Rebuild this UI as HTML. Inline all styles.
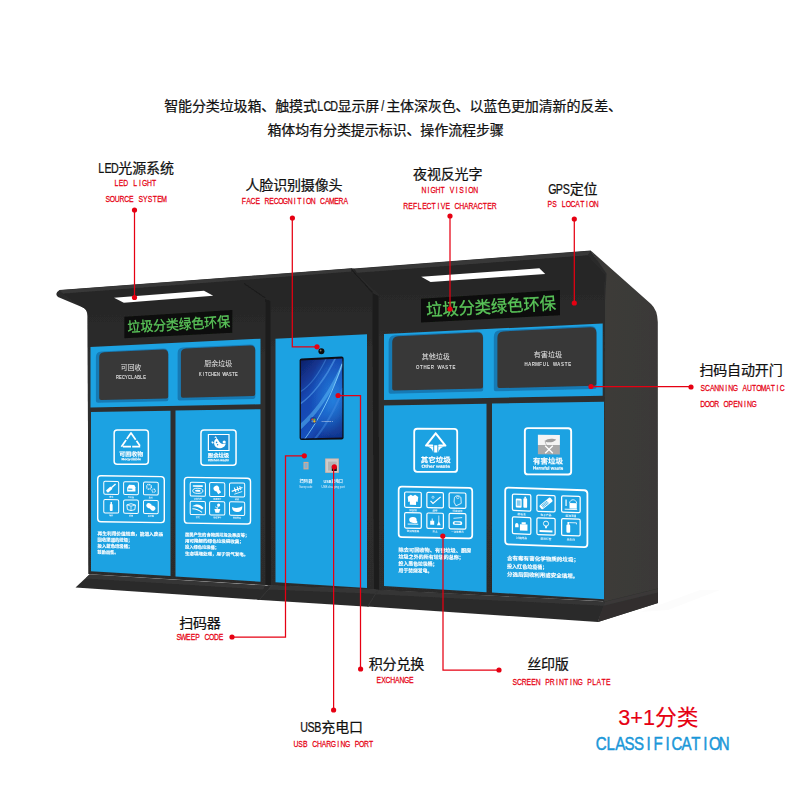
<!DOCTYPE html>
<html lang="zh"><head><meta charset="utf-8"><title>智能分类垃圾箱</title>
<style>
html,body{margin:0;padding:0;background:#fff;}
body{width:800px;height:800px;overflow:hidden;font-family:"Liberation Sans","Noto Sans CJK SC",sans-serif;}
svg{display:block;}
text{white-space:pre;}
</style></head><body>
<svg width="800" height="800" viewBox="0 0 800 800">
<rect width="800" height="800" fill="#fff"/>
<filter id="fSoft" x="0" y="0" width="800" height="800" filterUnits="userSpaceOnUse"><feGaussianBlur stdDeviation="0.38"/></filter>
<g filter="url(#fSoft)">
<defs>
<linearGradient id="gSide" x1="0" y1="0" x2="1" y2="0"><stop offset="0" stop-color="#343332"/><stop offset="0.25" stop-color="#3c3b39"/><stop offset="1" stop-color="#3a3937"/></linearGradient>
<linearGradient id="gScr" x1="0" y1="0" x2="0.6" y2="1"><stop offset="0" stop-color="#0e1c62"/><stop offset="0.4" stop-color="#1646b0"/><stop offset="0.75" stop-color="#1550bc"/><stop offset="1" stop-color="#0d2a86"/></linearGradient>
<radialGradient id="gScrR" cx="0.75" cy="0.5" r="0.55"><stop offset="0" stop-color="#2a8fe8" stop-opacity="0.75"/><stop offset="1" stop-color="#2a8fe8" stop-opacity="0"/></radialGradient>
<linearGradient id="gFront" x1="0" y1="0" x2="0" y2="1"><stop offset="0" stop-color="#262626"/><stop offset="0.25" stop-color="#2f2f2f"/><stop offset="1" stop-color="#2c2c2c"/></linearGradient>
</defs>
<polygon points="640,612 700,590 720,590 668,610" fill="#fcfcfc"/>
<path d="M590.7,250.5 L651,304 Q657.5,310 657.8,322 L658,603 L598,622 L604,598 L604,272 Z" fill="url(#gSide)"/>
<path d="M59.5,290 L351.5,268.2 L354,268.6 L590.7,250.5 L606.5,273.5 L605,300 L604,601 L379,590 L374,589.5 L271,585.5 L265.5,585 L88.5,574 L87.6,316 Q87,309.5 83,307.6 L58,297 Q54,293.5 59.5,290 Z" fill="#2b2b2b"/>
<path d="M59.5,290.3 L351.5,268.5 L351.5,271.6 L63,293.6 Z" fill="#383838"/>
<path d="M354,268.9 L590.5,250.9 L587.6,255.2 L356.5,272.8 Z" fill="#383838"/>
<path d="M63,294 L351.5,272 L372,292.5 L372,296 L271,304 L265.3,300 L88,312 Q85,308 82,307 Z" fill="#272727"/>
<path d="M356.5,273.2 L587.6,255.5 L604.8,274.5 L604.8,282 L380,299 L378.5,294 Z" fill="#262626"/>
<polygon points="87.6,312.0 265.3,299.0 265.3,585.0 88.5,574.0" fill="url(#gFront)" />
<path d="M270.5,303 Q270.5,296.2 277,295.6 L365.5,288.6 Q372.3,288.2 372.3,295 L374,589.5 L271,585.5 Z" fill="url(#gFront)"/>
<path d="M378.6,300 Q378.6,293 385,292.4 L604,274.8 L604,601 L379,590 Z" fill="url(#gFront)"/>
<polygon points="265.3,299.0 270.5,301.0 271.0,585.6 265.5,585.0" fill="#1c1c1c" />
<polygon points="372.3,293.0 378.6,296.0 379.0,590.0 374.0,589.5" fill="#1c1c1c" />
<path d="M244,283.6 L265.5,298" stroke="#1e1e1e" stroke-width="1.2" fill="none"/>
<path d="M351.8,270 L372.5,292.5" stroke="#1e1e1e" stroke-width="1.2" fill="none"/>
<path d="M351.6,268.3 L351.9,272 M354,268.7 L356.5,273" stroke="#222" stroke-width="0.8" fill="none"/>
<polygon points="89.5,574.5 265.5,585.5 272.0,586.0 259.0,599.8 75.5,587.6" fill="#2a2a2a" />
<polygon points="268.0,585.3 380.0,589.5 368.5,606.8 257.0,599.7" fill="#2a2a2a" />
<polygon points="377.5,589.7 605.0,601.5 598.0,622.0 367.5,606.6" fill="#2b2b2b" />
<polygon points="605.0,601.5 658.0,588.5 658.0,603.0 598.0,622.0" fill="#302f2e" />
<polygon points="89.5,574.6 265.5,585.6 263.0,589.6 85.5,578.4" fill="#353535" />
<polygon points="271.0,585.6 377.5,589.8 375.0,593.8 268.0,589.6" fill="#353535" />
<polygon points="378.5,590.0 605.0,601.7 603.6,605.8 376.0,594.2" fill="#353535" />
<polygon points="605.0,601.7 658.0,588.7 658.0,592.4 603.6,605.8" fill="#3a3938" />
<path d="M271.5,586 L259.5,599.5 M377.8,590 L367.8,606.4" stroke="#3a3a3a" stroke-width="0.8" fill="none"/>
<polygon points="114.0,297.7 204.0,290.8 213.2,295.8 123.8,302.8" fill="#ffffff" />
<polygon points="421.2,276.8 539.4,268.3 545.2,274.0 430.6,282.0" fill="#ffffff" />
<polygon points="124.3,316.8 232.3,310.1 232.3,332.7 124.3,338.3" fill="#0c0f0a" />
<text x="127.5" y="329.5" font-size="14" fill="#5ac45a" text-anchor="start" font-weight="normal" font-family='"Liberation Sans","Noto Sans CJK SC",sans-serif' textLength="102.5" lengthAdjust="spacingAndGlyphs" stroke="#5ac45a" stroke-width="0.32" transform="rotate(-3.19 178.3 324.5)">垃圾分类绿色环保</text>
<polygon points="421.0,298.8 560.0,290.1 560.0,315.2 421.0,322.5" fill="#0c0f0a" />
<text x="426.0" y="312.8" font-size="17" fill="#5ac45a" text-anchor="start" font-weight="normal" font-family='"Liberation Sans","Noto Sans CJK SC",sans-serif' textLength="130.0" lengthAdjust="spacingAndGlyphs" stroke="#5ac45a" stroke-width="0.32" transform="rotate(-3.18 490.5 306.6)">垃圾分类绿色环保</text>
<polygon points="90.5,347.0 260.5,338.7 260.5,404.3 90.5,407.5" fill="#1fa2e2" />
<path d="M101.40,351.38 L162.90,348.53 Q168.40,348.28 168.40,353.78 L168.40,399.33 Q168.40,401.33 166.40,401.37 L97.90,402.82 Q95.90,402.86 95.90,400.86 L95.90,357.13 Q95.90,351.63 101.40,351.38 Z" fill="#187ab4" />
<path d="M104.20,352.25 L163.20,349.55 Q168.20,349.32 168.20,354.32 L168.20,396.44 Q168.20,398.44 166.20,398.48 L101.20,399.94 Q99.20,399.99 99.20,397.99 L99.20,357.48 Q99.20,352.48 104.20,352.25 Z" fill="#373737" />
<path d="M183.10,347.60 L249.90,344.51 Q255.40,344.25 255.40,349.75 L255.40,396.84 Q255.40,398.84 253.40,398.88 L179.60,400.47 Q177.60,400.51 177.60,398.51 L177.60,353.35 Q177.60,347.85 183.10,347.60 Z" fill="#187ab4" />
<path d="M185.90,348.51 L250.20,345.57 Q255.20,345.34 255.20,350.34 L255.20,394.05 Q255.20,396.05 253.20,396.09 L182.90,397.69 Q180.90,397.73 180.90,395.73 L180.90,353.74 Q180.90,348.74 185.90,348.51 Z" fill="#373737" />
<polygon points="91.0,412.0 170.5,410.7 170.5,576.1 91.0,571.2" fill="#1fa2e2" />
<polygon points="175.5,410.6 260.5,409.2 260.5,581.7 175.5,576.5" fill="#1fa2e2" />
<polygon points="275.5,338.8 367.0,334.3 367.0,587.9 275.5,582.3" fill="#1fa2e2" />
<polygon points="384.0,334.0 602.7,323.5 602.7,395.7 384.0,400.0" fill="#1fa2e2" />
<path d="M395.10,335.25 L476.70,331.39 Q483.20,331.08 483.20,337.58 L483.20,389.55 Q483.20,391.55 481.20,391.60 L390.60,393.63 Q388.60,393.68 388.60,391.68 L388.60,342.06 Q388.60,335.56 395.10,335.25 Z" fill="#187ab4" />
<path d="M398.20,336.31 L477.00,332.62 Q483.00,332.34 483.00,338.34 L483.00,386.44 Q483.00,388.44 481.00,388.49 L394.20,390.55 Q392.20,390.60 392.20,388.60 L392.20,342.59 Q392.20,336.59 398.20,336.31 Z" fill="#373737" />
<path d="M500.30,330.27 L590.10,326.02 Q596.60,325.71 596.60,332.21 L596.60,387.01 Q596.60,389.01 594.60,389.06 L495.80,391.27 Q493.80,391.32 493.80,389.32 L493.80,337.08 Q493.80,330.58 500.30,330.27 Z" fill="#187ab4" />
<path d="M503.40,331.38 L590.40,327.31 Q596.40,327.03 596.40,333.03 L596.40,383.75 Q596.40,385.75 594.40,385.80 L499.40,388.05 Q497.40,388.10 497.40,386.10 L497.40,337.66 Q497.40,331.66 503.40,331.38 Z" fill="#373737" />
<polygon points="384.0,405.5 486.5,403.7 486.5,592.2 384.0,586.0" fill="#1fa2e2" />
<polygon points="492.0,403.6 604.0,401.7 604.0,599.2 492.0,592.5" fill="#1fa2e2" />
<circle cx="321.4" cy="351.3" r="3.0" fill="#0d0d0d"/><circle cx="320.6" cy="350.5" r="0.9" fill="#8a7a6a"/>
<path d="M299.6,360.6 Q299.6,358.6 301.6,358.5 L341.4,356.6 Q343.6,356.5 343.6,358.6 L343.6,437.6 Q343.6,439.4 341.6,439.5 L301.6,440 Q299.6,440 299.6,438 Z" fill="#0c0d14"/>
<clipPath id="cScr"><path d="M300.9,360.6 L342.3,358.4 L342.3,437.6 L300.9,438.4 Z"/></clipPath>
<g clip-path="url(#cScr)"><rect x="300" y="357" width="44" height="83" fill="url(#gScr)"/><rect x="300" y="357" width="44" height="83" fill="url(#gScrR)"/><path d="M300,424 C312,414 330,392 343,360 L343,366 C331,396 314,418 300,430 Z" fill="#58b4f2" opacity="0.55"/><path d="M304,440 C316,424 332,396 342,364" stroke="#8fdcff" stroke-width="0.9" fill="none" opacity="0.85"/><path d="M300,404 C312,396 326,378 336,357" stroke="#5aa6ee" stroke-width="1.6" fill="none" opacity="0.55"/><path d="M300,392 C310,386 320,372 327,357" stroke="#4a8fe0" stroke-width="1.2" fill="none" opacity="0.5"/><path d="M314,440 C326,426 338,404 343,388" stroke="#3f8ae2" stroke-width="2" fill="none" opacity="0.5"/></g>
<circle cx="313.3" cy="420.4" r="3.3" fill="#1b3f9a"/><circle cx="312.5" cy="419.6" r="1.15" fill="#e0472b"/><circle cx="314.4" cy="419.6" r="1.15" fill="#5db341"/><circle cx="312.5" cy="421.4" r="1.15" fill="#3a8be0"/><circle cx="314.4" cy="421.4" r="1.15" fill="#f2b720"/>
<text x="321.5" y="421.8" font-size="2.4" fill="#dfe8f5" text-anchor="start" font-weight="normal" font-family='"Liberation Sans","Noto Sans CJK SC",sans-serif' >Windows 7</text>
<rect x="303.5" y="461.9" width="5" height="7.5" fill="#dba98c"/><rect x="304.5" y="463" width="3" height="5.3" fill="#7fb2d6"/>
<rect x="325.2" y="458.5" width="13.6" height="14.3" fill="#e3b7a2"/><rect x="326.2" y="459.5" width="11.6" height="12.3" fill="#cdcdcd"/><rect x="328" y="461.6" width="8.6" height="9" fill="#b4b4b4"/><rect x="331.8" y="466.6" width="5" height="4.4" fill="#161616"/>
<text x="299.6" y="482.6" font-size="4.0" fill="#f2f9fe" text-anchor="start" font-weight="bold" font-family='"Liberation Sans","Noto Sans CJK SC",sans-serif' textLength="12.8" lengthAdjust="spacingAndGlyphs" >扫码器</text>
<text x="299.3" y="487.5" font-size="2.7" fill="#e4f2fb" text-anchor="start" font-weight="normal" font-family='"Liberation Sans","Noto Sans CJK SC",sans-serif' textLength="13.0" lengthAdjust="spacingAndGlyphs" >Sweep code</text>
<text x="323.4" y="482.6" font-size="4.0" fill="#f2f9fe" text-anchor="start" font-weight="bold" font-family='"Liberation Sans","Noto Sans CJK SC",sans-serif' textLength="19.5" lengthAdjust="spacingAndGlyphs" >USB充电口</text>
<text x="321.5" y="487.5" font-size="2.7" fill="#e4f2fb" text-anchor="start" font-weight="normal" font-family='"Liberation Sans","Noto Sans CJK SC",sans-serif' textLength="23.2" lengthAdjust="spacingAndGlyphs" >USB charging port</text>
<text x="120.8" y="370.4" font-size="6.4" fill="#e9e9e9" text-anchor="start" font-weight="normal" font-family='"Liberation Sans","Noto Sans CJK SC",sans-serif' textLength="20.5" lengthAdjust="spacingAndGlyphs" >可回收</text>
<text x="1.59 5.55 9.51 13.47 17.43 21.39 25.35 29.31 33.27 37.23" y="0" font-size="5.2" fill="#ececec" stroke="#ececec" stroke-width="0.12" text-anchor="middle" font-family='"Liberation Sans","Noto Sans CJK SC",sans-serif' transform="translate(116.2 378.8) scale(0.76 1)">RECYCLABLE</text>
<text x="204.3" y="366.4" font-size="6.6" fill="#e9e9e9" text-anchor="start" font-weight="normal" font-family='"Liberation Sans","Noto Sans CJK SC",sans-serif' textLength="28.0" lengthAdjust="spacingAndGlyphs" >厨余垃圾</text>
<text x="1.58 5.54 9.50 13.46 17.41 21.37 25.33 29.29 33.24 37.20 41.16 45.12 49.07" y="0" font-size="5.2" fill="#ececec" stroke="#ececec" stroke-width="0.12" text-anchor="middle" font-family='"Liberation Sans","Noto Sans CJK SC",sans-serif' transform="translate(199.1 375.8) scale(0.76 1)">KITCHEN WASTE</text>
<g transform="matrix(1 0.0006 0 1 0 -0.073)"><rect x="114.15" y="429.95" width="34.20" height="34.40" rx="3" fill="none" stroke="#ffffff" stroke-width="1.5"/><path d="M131.0,432.9 L121.4,446.7 L140.6,446.7 Z" fill="none" stroke="#ffffff" stroke-width="1.7" stroke-linejoin="round" stroke-dasharray="7.4 1.2 8.2 1.6 8 1.2 8 1.6 6 1.4 20"/><text x="119.35" y="456.22" font-size="5.9" fill="#ffffff" stroke="#ffffff" stroke-width="0.12" font-weight="bold" font-family='"Liberation Sans","Noto Sans CJK SC",sans-serif' textLength="23.80" lengthAdjust="spacingAndGlyphs">可回收物</text><text x="121.55" y="460.19" font-size="3.3" fill="#ffffff" stroke="#ffffff" stroke-width="0.12" font-weight="bold" font-family='"Liberation Sans","Noto Sans CJK SC",sans-serif' textLength="19.40" lengthAdjust="spacingAndGlyphs">Recyclable</text></g>
<g transform="matrix(1 0.0154 0 1 0 -2.015)"><rect x="97.70" y="476.20" width="66.60" height="46.00" rx="3.2" fill="none" stroke="#ffffff" stroke-width="1.4"/><rect x="103.75" y="481.75" width="14.95" height="12.85" rx="1.4" fill="none" stroke="#ffffff" stroke-width="1.0"/><g transform="translate(111.22 488.18) rotate(-42)"><rect x="-5.86" y="-1.54" width="6.42" height="3.08" rx="0.9" fill="#ffffff"/><rect x="0.28" y="-0.71" width="5.58" height="1.42" fill="#ffffff"/></g><text x="111.22" y="497.92" font-size="2.0" fill="#e4f3fc" font-weight="bold" text-anchor="middle" font-family='"Liberation Sans","Noto Sans CJK SC",sans-serif'>玻璃</text><rect x="123.60" y="481.75" width="14.80" height="12.85" rx="1.4" fill="none" stroke="#ffffff" stroke-width="1.0"/><path d="M127.14,487.58 L129.07,484.86 L134.31,484.86 L135.42,487.23 L135.42,491.49 L127.14,491.49 Z" fill="#ffffff"/><rect x="128.24" y="488.65" width="4.14" height="1.19" fill="#1fa2e2"/><text x="131.00" y="497.92" font-size="2.0" fill="#e4f3fc" font-weight="bold" text-anchor="middle" font-family='"Liberation Sans","Noto Sans CJK SC",sans-serif'>牛奶盒</text><rect x="143.50" y="481.75" width="14.75" height="12.85" rx="1.4" fill="none" stroke="#ffffff" stroke-width="1.0"/><circle cx="148.95" cy="486.52" r="2.34" fill="none" stroke="#ffffff" stroke-width="1.3" stroke-dasharray="1 0.7"/><circle cx="153.62" cy="490.31" r="1.65" fill="none" stroke="#ffffff" stroke-width="1.1" stroke-dasharray="0.9 0.6"/><text x="150.88" y="497.92" font-size="2.0" fill="#e4f3fc" font-weight="bold" text-anchor="middle" font-family='"Liberation Sans","Noto Sans CJK SC",sans-serif'>金属</text><rect x="103.75" y="500.00" width="14.95" height="13.30" rx="1.4" fill="none" stroke="#ffffff" stroke-width="1.0"/><rect x="109.83" y="504.19" width="2.79" height="7.13" rx="0.8" fill="#ffffff"/><rect x="110.53" y="502.22" width="1.40" height="2.46" fill="#ffffff"/><text x="111.22" y="516.52" font-size="2.0" fill="#e4f3fc" font-weight="bold" text-anchor="middle" font-family='"Liberation Sans","Noto Sans CJK SC",sans-serif'>塑料</text><rect x="123.60" y="500.00" width="14.80" height="13.30" rx="1.4" fill="none" stroke="#ffffff" stroke-width="1.0"/><path d="M126.86,504.93 L131.00,503.70 L135.42,504.93 L134.86,509.60 L131.00,510.59 L127.41,509.60 Z" fill="none" stroke="#ffffff" stroke-width="0.9"/><path d="M126.86,504.93 L131.00,506.16 L135.42,504.93 M131.00,506.16 L131.00,510.59" fill="none" stroke="#ffffff" stroke-width="0.7"/><text x="131.00" y="516.52" font-size="2.0" fill="#e4f3fc" font-weight="bold" text-anchor="middle" font-family='"Liberation Sans","Noto Sans CJK SC",sans-serif'>纸箱</text><rect x="143.50" y="500.00" width="14.75" height="13.30" rx="1.4" fill="none" stroke="#ffffff" stroke-width="1.0"/><g transform="translate(150.88 506.65) rotate(35)"><ellipse cx="-2.20" cy="0" rx="2.75" ry="2.46" fill="#ffffff"/><ellipse cx="2.20" cy="0" rx="2.75" ry="2.46" fill="#ffffff"/></g><text x="150.88" y="516.52" font-size="2.0" fill="#e4f3fc" font-weight="bold" text-anchor="middle" font-family='"Liberation Sans","Noto Sans CJK SC",sans-serif'>易拉罐</text></g>
<g transform="matrix(1 0.0107 0 1 0 -1.046)"><text x="97.60" y="535.19" font-size="4.7" fill="#ffffff" stroke="#ffffff" stroke-width="0.12" font-weight="bold" font-family='"Liberation Sans","Noto Sans CJK SC",sans-serif' textLength="65.60" lengthAdjust="spacingAndGlyphs">再生利用价值较高，能进入废品</text></g>
<g transform="matrix(1 0.0115 0 1 0 -1.121)"><text x="97.60" y="541.49" font-size="4.7" fill="#ffffff" stroke="#ffffff" stroke-width="0.12" font-weight="bold" font-family='"Liberation Sans","Noto Sans CJK SC",sans-serif' textLength="34.80" lengthAdjust="spacingAndGlyphs">回收渠道的垃圾；</text></g>
<g transform="matrix(1 0.0122 0 1 0 -1.195)"><text x="97.60" y="547.69" font-size="4.7" fill="#ffffff" stroke="#ffffff" stroke-width="0.12" font-weight="bold" font-family='"Liberation Sans","Noto Sans CJK SC",sans-serif' textLength="34.80" lengthAdjust="spacingAndGlyphs">投入蓝色垃圾桶；</text></g>
<g transform="matrix(1 0.0130 0 1 0 -1.268)"><text x="97.60" y="553.79" font-size="4.7" fill="#ffffff" stroke="#ffffff" stroke-width="0.12" font-weight="bold" font-family='"Liberation Sans","Noto Sans CJK SC",sans-serif' textLength="20.80" lengthAdjust="spacingAndGlyphs">鼓励出售。</text></g>
<g transform="matrix(1 0.0007 0 1 0 -0.162)"><rect x="200.95" y="429.95" width="35.10" height="35.30" rx="3" fill="none" stroke="#ffffff" stroke-width="1.5"/><rect x="208.4" y="434.5" width="20.6" height="16" fill="#1a8fd4" stroke="#ffffff" stroke-width="1.2"/><path d="M214.2,441.4 C215,438.6 217.2,438 218.4,440.2 C219.8,443 222.4,445 225.8,443.4 C225.2,447.2 221.2,448.8 218,448 C215,447.2 213.6,444.6 214.2,441.4 Z" fill="#ffffff"/><circle cx="224.2" cy="442" r="1.6" fill="#ffffff"/><circle cx="216.6" cy="442.4" r="0.8" fill="#1a8fd4"/><circle cx="217.6" cy="444.8" r="0.7" fill="#1a8fd4"/><path d="M215.4,436.4 L216.8,439 M214.6,437.6 L216.4,437.2 M211.4,442.4 L213.8,442.6 M212.2,441.2 L212.8,443.8" stroke="#ffffff" stroke-width="0.8"/><text x="207.80" y="457.42" font-size="5.6" fill="#ffffff" stroke="#ffffff" stroke-width="0.12" font-weight="bold" font-family='"Liberation Sans","Noto Sans CJK SC",sans-serif' textLength="21.40" lengthAdjust="spacingAndGlyphs">厨余垃圾</text><text x="207.90" y="461.32" font-size="3.1" fill="#ffffff" stroke="#ffffff" stroke-width="0.12" font-weight="bold" font-family='"Liberation Sans","Noto Sans CJK SC",sans-serif' textLength="21.20" lengthAdjust="spacingAndGlyphs">Kitchen waste</text></g>
<g transform="matrix(1 0.0152 0 1 0 -3.302)"><rect x="184.40" y="477.80" width="66.10" height="45.80" rx="3.2" fill="none" stroke="#ffffff" stroke-width="1.4"/><rect x="190.20" y="482.70" width="15.20" height="13.80" rx="1.4" fill="none" stroke="#ffffff" stroke-width="1.0"/><rect x="192.69" y="485.50" width="10.22" height="1.66" rx="0.8" fill="#ffffff"/><ellipse cx="197.80" cy="491.14" rx="5.11" ry="2.56" fill="none" stroke="#ffffff" stroke-width="0.9"/><ellipse cx="197.80" cy="491.14" rx="2.84" ry="1.02" fill="#ffffff"/><text x="197.80" y="499.82" font-size="2.0" fill="#e4f3fc" font-weight="bold" text-anchor="middle" font-family='"Liberation Sans","Noto Sans CJK SC",sans-serif'>骨骼内脏</text><rect x="209.60" y="482.70" width="15.20" height="13.80" rx="1.4" fill="none" stroke="#ffffff" stroke-width="1.0"/><g transform="translate(217.20 489.60) rotate(-35)"><ellipse cx="0" cy="-1.54" rx="2.84" ry="2.56" fill="#ffffff"/><rect x="-1.70" y="-0.26" width="3.41" height="4.61" fill="#ffffff"/></g><text x="217.20" y="499.82" font-size="2.0" fill="#e4f3fc" font-weight="bold" text-anchor="middle" font-family='"Liberation Sans","Noto Sans CJK SC",sans-serif'>菜梗菜叶</text><rect x="229.50" y="482.70" width="15.20" height="13.80" rx="1.4" fill="none" stroke="#ffffff" stroke-width="1.0"/><path d="M231.70,491.14 L242.50,487.04 M234.26,487.30 L235.96,491.90 M237.10,486.27 L238.52,490.88 M239.66,485.76 L240.79,489.60" stroke="#ffffff" stroke-width="1.1" fill="none"/><path d="M234.26,493.95 L242.21,491.14" stroke="#ffffff" stroke-width="0.8"/><text x="237.10" y="499.82" font-size="2.0" fill="#e4f3fc" font-weight="bold" text-anchor="middle" font-family='"Liberation Sans","Noto Sans CJK SC",sans-serif'>果皮</text><rect x="190.20" y="501.60" width="15.20" height="13.40" rx="1.4" fill="none" stroke="#ffffff" stroke-width="1.0"/><path d="M192.40,506.56 C196.38,503.34 201.35,504.58 203.48,508.30 L202.06,509.79 C199.22,507.06 196.38,506.56 192.40,506.56 Z" fill="#ffffff"/><path d="M192.40,509.04 C196.38,509.04 199.22,510.28 202.06,512.52" stroke="#ffffff" stroke-width="1" fill="none"/><text x="197.80" y="518.32" font-size="2.0" fill="#e4f3fc" font-weight="bold" text-anchor="middle" font-family='"Liberation Sans","Noto Sans CJK SC",sans-serif'>茶渣</text><rect x="209.60" y="501.60" width="15.20" height="13.40" rx="1.4" fill="none" stroke="#ffffff" stroke-width="1.0"/><path d="M214.36,508.92 L220.32,508.92 L219.19,512.76 L215.50,512.76 Z" fill="#ffffff"/><circle cx="218.62" cy="505.08" r="1.56" fill="#ffffff"/><path d="M217.20,508.92 L218.34,505.82 M217.20,508.30 L215.21,506.81" stroke="#ffffff" stroke-width="0.8"/><text x="217.20" y="518.32" font-size="2.0" fill="#e4f3fc" font-weight="bold" text-anchor="middle" font-family='"Liberation Sans","Noto Sans CJK SC",sans-serif'>残枝落叶</text><rect x="229.50" y="501.60" width="15.20" height="13.40" rx="1.4" fill="none" stroke="#ffffff" stroke-width="1.0"/><path d="M231.99,506.81 C235.68,508.30 239.09,507.56 242.21,505.82 C242.78,509.79 239.94,512.02 236.53,511.77 C233.69,511.52 231.99,509.54 231.99,506.81 Z" fill="#ffffff"/><text x="237.10" y="518.32" font-size="2.0" fill="#e4f3fc" font-weight="bold" text-anchor="middle" font-family='"Liberation Sans","Noto Sans CJK SC",sans-serif'>剩菜剩饭</text></g>
<g transform="matrix(1 0.0104 0 1 0 -1.925)"><text x="185.00" y="536.22" font-size="4.5" fill="#ffffff" stroke="#ffffff" stroke-width="0.12" font-weight="bold" font-family='"Liberation Sans","Noto Sans CJK SC",sans-serif' textLength="64.20" lengthAdjust="spacingAndGlyphs">居民产生的食物类垃圾及果皮等；</text></g>
<g transform="matrix(1 0.0111 0 1 0 -2.059)"><text x="185.00" y="542.42" font-size="4.5" fill="#ffffff" stroke="#ffffff" stroke-width="0.12" font-weight="bold" font-family='"Liberation Sans","Noto Sans CJK SC",sans-serif' textLength="58.80" lengthAdjust="spacingAndGlyphs">用可降解的绿色垃圾袋收集；</text></g>
<g transform="matrix(1 0.0119 0 1 0 -2.194)"><text x="185.00" y="548.62" font-size="4.5" fill="#ffffff" stroke="#ffffff" stroke-width="0.12" font-weight="bold" font-family='"Liberation Sans","Noto Sans CJK SC",sans-serif' textLength="34.00" lengthAdjust="spacingAndGlyphs">投入绿色垃圾桶；</text></g>
<g transform="matrix(1 0.0126 0 1 0 -2.337)"><text x="185.00" y="555.22" font-size="4.5" fill="#ffffff" stroke="#ffffff" stroke-width="0.12" font-weight="bold" font-family='"Liberation Sans","Noto Sans CJK SC",sans-serif' textLength="63.20" lengthAdjust="spacingAndGlyphs">生态填埋处理，用于沼气发电。</text></g>
<g transform="matrix(1 0.0018 0 1 0 -0.796)"><rect x="414.20" y="428.80" width="43.00" height="43.10" rx="3" fill="none" stroke="#ffffff" stroke-width="1.8"/><path d="M435.7,433.3 L426,445.6 L432.3,445.6 M435.7,433.3 L445.4,445.6 L439.2,445.6" fill="none" stroke="#ffffff" stroke-width="2" stroke-linejoin="round" stroke-linecap="round"/><path d="M434.2,445.2 L437.3,445.2 L437.3,452.6 L434.2,452.6 Z" fill="#ffffff"/><path d="M427.5,446.6 L433.2,446.6 L433.2,452.6 C432.6,449.6 430.6,447.6 427.5,446.6 Z M444,446.6 L438.3,446.6 L438.3,452.6 C438.9,449.6 440.9,447.6 444,446.6 Z" fill="#ffffff"/><text x="420.70" y="462.49" font-size="7.2" fill="#ffffff" stroke="#ffffff" stroke-width="0.12" font-weight="bold" font-family='"Liberation Sans","Noto Sans CJK SC",sans-serif' textLength="30.00" lengthAdjust="spacingAndGlyphs">其它垃圾</text><text x="421.40" y="467.68" font-size="4.4" fill="#ffffff" stroke="#ffffff" stroke-width="0.12" font-weight="bold" font-family='"Liberation Sans","Noto Sans CJK SC",sans-serif' textLength="28.60" lengthAdjust="spacingAndGlyphs">Other waste</text></g>
<g transform="matrix(1 0.0169 0 1 0 -6.717)"><rect x="398.65" y="486.65" width="73.60" height="50.50" rx="3.2" fill="none" stroke="#ffffff" stroke-width="1.7"/><rect x="404.60" y="491.85" width="16.70" height="15.30" rx="1.4" fill="none" stroke="#ffffff" stroke-width="1.2"/><path d="M410.78,494.42 L412.95,495.83 L415.12,494.42 L418.22,496.68 L417.60,501.76 L416.05,501.19 L416.05,504.58 L409.85,504.58 L409.85,501.19 L408.30,501.76 L407.68,496.68 Z" fill="#ffffff"/><text x="412.95" y="510.90" font-size="2.5" fill="#e4f3fc" font-weight="bold" text-anchor="middle" font-family='"Liberation Sans","Noto Sans CJK SC",sans-serif'>旧衣物</text><rect x="426.85" y="491.85" width="16.55" height="15.30" rx="1.4" fill="none" stroke="#ffffff" stroke-width="1.2"/><path d="M430.52,500.35 L432.98,502.88 L440.65,496.12" stroke="#ffffff" stroke-width="1.2" fill="none"/><circle cx="432.98" cy="496.68" r="1.07" fill="none" stroke="#ffffff" stroke-width="0.6"/><text x="435.12" y="510.90" font-size="2.5" fill="#e4f3fc" font-weight="bold" text-anchor="middle" font-family='"Liberation Sans","Noto Sans CJK SC",sans-serif'>烟蒂</text><rect x="449.10" y="491.85" width="16.80" height="15.30" rx="1.4" fill="none" stroke="#ffffff" stroke-width="1.2"/><path d="M454.38,497.24 C454.38,494.14 460.00,493.86 460.93,496.68 L461.24,502.32 L455.94,504.86 L454.07,501.19 Z" fill="none" stroke="#ffffff" stroke-width="0.8"/><circle cx="457.81" cy="496.40" r="1.25" fill="none" stroke="#ffffff" stroke-width="0.6"/><text x="457.50" y="510.90" font-size="2.5" fill="#e4f3fc" font-weight="bold" text-anchor="middle" font-family='"Liberation Sans","Noto Sans CJK SC",sans-serif'>污染纸张</text><rect x="404.60" y="512.50" width="16.70" height="15.40" rx="1.4" fill="none" stroke="#ffffff" stroke-width="1.2"/><ellipse cx="412.95" cy="519.63" rx="3.72" ry="2.84" fill="#ffffff"/><path d="M407.68,523.89 L418.22,523.89" stroke="#ffffff" stroke-width="0.9"/><ellipse cx="414.81" cy="521.62" rx="2.79" ry="1.42" fill="#ffffff"/><text x="412.95" y="531.70" font-size="2.5" fill="#e4f3fc" font-weight="bold" text-anchor="middle" font-family='"Liberation Sans","Noto Sans CJK SC",sans-serif'>破旧陶瓷品</text><rect x="426.85" y="512.50" width="16.55" height="15.40" rx="1.4" fill="none" stroke="#ffffff" stroke-width="1.2"/><rect x="430.21" y="520.20" width="3.99" height="3.98" fill="#ffffff"/><rect x="431.75" y="517.93" width="0.92" height="2.56" fill="#ffffff"/><path d="M438.81,514.80 L438.81,521.05" stroke="#ffffff" stroke-width="0.7"/><path d="M438.81,520.20 L440.65,524.46 L436.97,524.46 Z" fill="#ffffff"/><text x="435.12" y="531.70" font-size="2.5" fill="#e4f3fc" font-weight="bold" text-anchor="middle" font-family='"Liberation Sans","Noto Sans CJK SC",sans-serif'>灰土</text><rect x="449.10" y="512.50" width="16.80" height="15.40" rx="1.4" fill="none" stroke="#ffffff" stroke-width="1.2"/><rect x="452.82" y="520.20" width="9.36" height="3.69" rx="1.6" fill="#ffffff"/><rect x="454.38" y="521.34" width="6.24" height="1.42" rx="0.8" fill="#1fa2e2"/><path d="M453.44,517.36 L462.18,516.51" stroke="#ffffff" stroke-width="0.8"/><text x="457.50" y="531.70" font-size="2.5" fill="#e4f3fc" font-weight="bold" text-anchor="middle" font-family='"Liberation Sans","Noto Sans CJK SC",sans-serif'>一次性餐具</text></g>
<g transform="matrix(1 0.0111 0 1 0 -4.420)"><text x="398.60" y="551.77" font-size="5.2" fill="#ffffff" stroke="#ffffff" stroke-width="0.12" font-weight="bold" font-family='"Liberation Sans","Noto Sans CJK SC",sans-serif' textLength="72.70" lengthAdjust="spacingAndGlyphs">除去可回收物、有害垃圾、厨房</text></g>
<g transform="matrix(1 0.0118 0 1 0 -4.709)"><text x="398.60" y="558.57" font-size="5.2" fill="#ffffff" stroke="#ffffff" stroke-width="0.12" font-weight="bold" font-family='"Liberation Sans","Noto Sans CJK SC",sans-serif' textLength="65.20" lengthAdjust="spacingAndGlyphs">垃圾之外的所有垃圾的总称；</text></g>
<g transform="matrix(1 0.0126 0 1 0 -5.002)"><text x="398.60" y="565.47" font-size="5.2" fill="#ffffff" stroke="#ffffff" stroke-width="0.12" font-weight="bold" font-family='"Liberation Sans","Noto Sans CJK SC",sans-serif' textLength="38.90" lengthAdjust="spacingAndGlyphs">投入黑色垃圾桶；</text></g>
<g transform="matrix(1 0.0133 0 1 0 -5.292)"><text x="398.60" y="572.27" font-size="5.2" fill="#ffffff" stroke="#ffffff" stroke-width="0.12" font-weight="bold" font-family='"Liberation Sans","Noto Sans CJK SC",sans-serif' textLength="33.70" lengthAdjust="spacingAndGlyphs">用于焚烧发电。</text></g>
<g transform="matrix(1 0.0021 0 1 0 -1.165)"><rect x="524.85" y="428.15" width="46.30" height="46.30" rx="3" fill="none" stroke="#ffffff" stroke-width="1.9"/><rect x="537.9" y="434.9" width="22" height="10.2" fill="#f4f4f4"/><rect x="537.9" y="445.1" width="22" height="9.3" fill="#a9a9a9"/><path d="M545,441.2 C547,438.3 553,438.2 556.2,439.8 C553.5,442.6 548,443.2 545,441.2 Z" fill="#9c9c9c"/><path d="M545.2,440.4 C545.2,443 546,444.6 547.2,445.8" stroke="#9c9c9c" stroke-width="0.7" fill="none"/><path d="M545.2,445.8 L552.8,453.2 M552.8,445.8 L545.2,453.2" stroke="#ffffff" stroke-width="1.3"/><text x="533.00" y="463.86" font-size="7.4" fill="#ffffff" stroke="#ffffff" stroke-width="0.12" font-weight="bold" font-family='"Liberation Sans","Noto Sans CJK SC",sans-serif' textLength="30.00" lengthAdjust="spacingAndGlyphs">有害垃圾</text><text x="532.90" y="469.66" font-size="4.6" fill="#ffffff" stroke="#ffffff" stroke-width="0.12" font-weight="bold" font-family='"Liberation Sans","Noto Sans CJK SC",sans-serif' textLength="30.20" lengthAdjust="spacingAndGlyphs">Harmful waste</text></g>
<g transform="matrix(1 0.0343 0 1 0 -17.278)"><rect x="505.20" y="487.50" width="82.20" height="56.80" rx="3.2" fill="none" stroke="#ffffff" stroke-width="1.8"/><rect x="512.42" y="493.82" width="18.40" height="16.30" rx="1.4" fill="none" stroke="#ffffff" stroke-width="1.25"/><rect x="515.79" y="498.06" width="5.83" height="9.03" rx="1" fill="#ffffff"/><rect x="516.82" y="499.87" width="3.77" height="5.42" fill="#1fa2e2" opacity="0.55"/><rect x="523.34" y="497.46" width="3.77" height="9.63" rx="1" fill="#ffffff"/><rect x="524.37" y="495.95" width="1.72" height="1.81" fill="#ffffff"/><text x="521.62" y="514.57" font-size="2.7" fill="#e4f3fc" font-weight="bold" text-anchor="middle" font-family='"Liberation Sans","Noto Sans CJK SC",sans-serif'>废电池</text><rect x="536.88" y="493.82" width="18.25" height="16.30" rx="1.4" fill="none" stroke="#ffffff" stroke-width="1.25"/><g transform="translate(546.00 501.98) rotate(-40)"><rect x="-7.14" y="-2.41" width="14.28" height="4.82" rx="1.2" fill="#ffffff"/><path d="M-5.10,-1.20 L2.38,-1.20 M-5.10,0 L2.38,0 M-5.10,1.20 L2.38,1.20" stroke="#1fa2e2" stroke-width="0.7"/></g><text x="546.00" y="514.57" font-size="2.7" fill="#e4f3fc" font-weight="bold" text-anchor="middle" font-family='"Liberation Sans","Noto Sans CJK SC",sans-serif'>电子产品</text><rect x="561.62" y="493.82" width="18.55" height="16.30" rx="1.4" fill="none" stroke="#ffffff" stroke-width="1.25"/><rect x="569.52" y="500.77" width="7.27" height="5.42" fill="#ffffff"/><path d="M569.52,500.77 C570.21,496.26 576.09,496.26 576.78,500.77" stroke="#ffffff" stroke-width="0.8" fill="none"/><path d="M566.06,497.46 L566.06,503.78" stroke="#ffffff" stroke-width="1.2"/><path d="M564.67,507.09 L577.13,507.09" stroke="#ffffff" stroke-width="0.9"/><text x="570.90" y="514.57" font-size="2.7" fill="#e4f3fc" font-weight="bold" text-anchor="middle" font-family='"Liberation Sans","Noto Sans CJK SC",sans-serif'>废油漆桶</text><rect x="512.42" y="516.62" width="18.40" height="16.75" rx="1.4" fill="none" stroke="#ffffff" stroke-width="1.25"/><rect x="519.91" y="523.76" width="7.55" height="6.20" fill="#ffffff"/><rect x="521.62" y="521.59" width="4.12" height="2.17" fill="#ffffff"/><path d="M515.11,524.38 a1.72,1.86 0 0 1 3.43,0 L518.54,526.86 L515.11,526.86 Z" fill="#ffffff"/><text x="521.62" y="538.37" font-size="2.7" fill="#e4f3fc" font-weight="bold" text-anchor="middle" font-family='"Liberation Sans","Noto Sans CJK SC",sans-serif'>过期药品</text><rect x="536.88" y="516.62" width="18.25" height="16.75" rx="1.4" fill="none" stroke="#ffffff" stroke-width="1.25"/><circle cx="546.00" cy="522.21" r="2.55" fill="none" stroke="#ffffff" stroke-width="0.9"/><rect x="545.15" y="524.38" width="1.70" height="2.48" fill="#ffffff"/><rect x="539.54" y="528.72" width="12.92" height="2.17" fill="#ffffff"/><text x="546.00" y="538.37" font-size="2.7" fill="#e4f3fc" font-weight="bold" text-anchor="middle" font-family='"Liberation Sans","Noto Sans CJK SC",sans-serif'>废旧灯管</text><rect x="561.62" y="516.62" width="18.55" height="16.75" rx="1.4" fill="none" stroke="#ffffff" stroke-width="1.25"/><rect x="566.40" y="522.21" width="3.81" height="8.37" rx="1.2" fill="#ffffff"/><rect x="567.44" y="519.73" width="1.73" height="2.79" fill="#ffffff"/><path d="M569.17,520.35 L576.44,520.35 L576.44,521.90" stroke="#ffffff" stroke-width="0.8" fill="none"/><text x="570.90" y="538.37" font-size="2.7" fill="#e4f3fc" font-weight="bold" text-anchor="middle" font-family='"Liberation Sans","Noto Sans CJK SC",sans-serif'>杀虫剂</text></g>
<g transform="matrix(1 0.0206 0 1 0 -10.444)"><text x="507.00" y="560.14" font-size="5.4" fill="#ffffff" stroke="#ffffff" stroke-width="0.12" font-weight="bold" font-family='"Liberation Sans","Noto Sans CJK SC",sans-serif' textLength="72.00" lengthAdjust="spacingAndGlyphs">含有毒有害化学物质的垃圾；</text></g>
<g transform="matrix(1 0.0221 0 1 0 -11.207)"><text x="507.00" y="568.34" font-size="5.4" fill="#ffffff" stroke="#ffffff" stroke-width="0.12" font-weight="bold" font-family='"Liberation Sans","Noto Sans CJK SC",sans-serif' textLength="40.40" lengthAdjust="spacingAndGlyphs">投入红色垃圾桶；</text></g>
<g transform="matrix(1 0.0236 0 1 0 -11.952)"><text x="507.00" y="576.34" font-size="5.4" fill="#ffffff" stroke="#ffffff" stroke-width="0.12" font-weight="bold" font-family='"Liberation Sans","Noto Sans CJK SC",sans-serif' textLength="71.20" lengthAdjust="spacingAndGlyphs">分选后回收利用或安全填埋。</text></g>
<text x="421.7" y="359.4" font-size="6.9" fill="#e9e9e9" text-anchor="start" font-weight="normal" font-family='"Liberation Sans","Noto Sans CJK SC",sans-serif' textLength="28.2" lengthAdjust="spacingAndGlyphs" >其他垃圾</text>
<text x="1.99 6.76 11.54 16.31 21.08 25.86 30.63 35.40 40.17 44.95 49.72" y="0" font-size="5.7" fill="#ececec" stroke="#ececec" stroke-width="0.12" text-anchor="middle" font-family='"Liberation Sans","Noto Sans CJK SC",sans-serif' transform="translate(416.2 369.4) scale(0.76 1)">OTHER WASTE</text>
<text x="533.8" y="356.6" font-size="6.9" fill="#e9e9e9" text-anchor="start" font-weight="normal" font-family='"Liberation Sans","Noto Sans CJK SC",sans-serif' textLength="28.2" lengthAdjust="spacingAndGlyphs" >有害垃圾</text>
<text x="1.99 6.77 11.55 16.33 21.10 25.88 30.66 35.44 40.21 44.99 49.77 54.54 59.32" y="0" font-size="5.7" fill="#ececec" stroke="#ececec" stroke-width="0.12" text-anchor="middle" font-family='"Liberation Sans","Noto Sans CJK SC",sans-serif' transform="translate(524.6 365.7) scale(0.76 1)">HARMFUL WASTE</text>
</g>
<polyline points="134.5,210 134.5,297.5" fill="none" stroke="#e60012" stroke-width="1.25"/>
<circle cx="134.5" cy="210" r="2.6" fill="#e60012"/>
<circle cx="134.5" cy="297.5" r="2.6" fill="#e60012"/>
<polyline points="292.3,218 292.3,346.8 317,346.8" fill="none" stroke="#e60012" stroke-width="1.25"/>
<circle cx="292.4" cy="218" r="2.6" fill="#e60012"/>
<circle cx="317" cy="346.8" r="2.6" fill="#e60012"/>
<polyline points="450,216 450,309" fill="none" stroke="#e60012" stroke-width="1.25"/>
<circle cx="450" cy="216" r="2.6" fill="#e60012"/>
<circle cx="450" cy="309" r="2.6" fill="#e60012"/>
<polyline points="574.3,219 574.3,303" fill="none" stroke="#e60012" stroke-width="1.25"/>
<circle cx="574.3" cy="219" r="2.6" fill="#e60012"/>
<circle cx="574.3" cy="303" r="2.6" fill="#e60012"/>
<polyline points="591,386.5 691,386.5" fill="none" stroke="#e60012" stroke-width="1.25"/>
<circle cx="591" cy="386.5" r="2.6" fill="#e60012"/>
<circle cx="691" cy="387" r="2.6" fill="#e60012"/>
<polyline points="232,637 285.5,637 285.5,455.8 304.3,455.8" fill="none" stroke="#e60012" stroke-width="1.25"/>
<circle cx="232" cy="637" r="2.6" fill="#e60012"/>
<circle cx="304.3" cy="455.8" r="2.6" fill="#e60012"/>
<polyline points="360.5,669 360.5,395.5 338,395.5" fill="none" stroke="#e60012" stroke-width="1.25"/>
<circle cx="360.6" cy="669" r="2.6" fill="#e60012"/>
<circle cx="338.1" cy="395.5" r="2.6" fill="#e60012"/>
<polyline points="333.6,710 333.6,467" fill="none" stroke="#e60012" stroke-width="1.25"/>
<circle cx="333.6" cy="710" r="2.6" fill="#e60012"/>
<circle cx="334.3" cy="466.8" r="2.6" fill="#e60012"/>
<polyline points="499,670 443,670 443,536" fill="none" stroke="#e60012" stroke-width="1.25"/>
<circle cx="499" cy="670" r="2.6" fill="#e60012"/>
<circle cx="442.8" cy="536" r="2.6" fill="#e60012"/>
<text x="171.23 185.10 198.97 212.84 226.72 240.59 254.46 268.32 282.19 296.06 309.94" y="110.8" font-size="14.0" fill="#111" stroke="#111" stroke-width="0.24" text-anchor="middle" font-family='"Liberation Sans","Noto Sans CJK SC",sans-serif'>智能分类垃圾箱、触摸式</text>
<text x="410.69 419.58 428.47" y="0" font-size="13.72" fill="#111" stroke="#111" stroke-width="0.24" text-anchor="middle" font-family='"Liberation Sans","Noto Sans CJK SC",sans-serif' transform="translate(0 110.8) scale(0.78 1)">LCD</text>
<text x="344.61 358.48 372.35" y="110.8" font-size="14.0" fill="#111" stroke="#111" stroke-width="0.24" text-anchor="middle" font-family='"Liberation Sans","Noto Sans CJK SC",sans-serif'>显示屏</text>
<text x="490.71" y="0" font-size="13.72" fill="#111" stroke="#111" stroke-width="0.24" text-anchor="middle" font-family='"Liberation Sans","Noto Sans CJK SC",sans-serif' transform="translate(0 110.8) scale(0.78 1)">/</text>
<text x="393.16 407.03 420.90 434.77 448.64 462.51 476.38 490.25 504.12 517.99 531.86 545.73 559.60 573.47 587.34 601.21 615.08" y="110.8" font-size="14.0" fill="#111" stroke="#111" stroke-width="0.24" text-anchor="middle" font-family='"Liberation Sans","Noto Sans CJK SC",sans-serif'>主体深灰色、以蓝色更加清新的反差、</text>
<text x="274.45 288.35 302.25 316.15 330.05 343.95 357.85 371.75 385.65 399.55 413.45 427.35 441.25 455.15 469.05 482.95 496.85" y="134.8" font-size="14.0" fill="#111" stroke="#111" stroke-width="0.24" text-anchor="middle" font-family='"Liberation Sans","Noto Sans CJK SC",sans-serif'>箱体均有分类提示标识、操作流程步骤</text>
<text x="129.65 138.53 147.40" y="0" font-size="13.72" fill="#111" stroke="#111" stroke-width="0.24" text-anchor="middle" font-family='"Liberation Sans","Noto Sans CJK SC",sans-serif' transform="translate(0 173.2) scale(0.78 1)">LED</text>
<text x="125.36 139.21 153.06 166.91" y="173.2" font-size="14.0" fill="#111" stroke="#111" stroke-width="0.24" text-anchor="middle" font-family='"Liberation Sans","Noto Sans CJK SC",sans-serif'>光源系统</text>
<text x="2.45 8.66 14.88 21.09 27.30 33.52 39.73 45.94 52.16" y="0" font-size="9.0" fill="#e60012" stroke="#e60012" stroke-width="0.25" text-anchor="middle" font-family='"Liberation Sans","Noto Sans CJK SC",sans-serif' transform="translate(114.5 186.2) scale(0.76 1)">LED LIGHT</text>
<text x="2.43 8.60 14.78 20.95 27.13 33.30 39.47 45.65 51.82 58.00 64.17 70.34 76.52" y="0" font-size="9.0" fill="#e60012" stroke="#e60012" stroke-width="0.25" text-anchor="middle" font-family='"Liberation Sans","Noto Sans CJK SC",sans-serif' transform="translate(106.0 202.2) scale(0.76 1)">SOURCE SYSTEM</text>
<text x="252.45 266.30 280.15 294.00 307.85 321.70 335.55" y="189.8" font-size="14.0" fill="#111" stroke="#111" stroke-width="0.24" text-anchor="middle" font-family='"Liberation Sans","Noto Sans CJK SC",sans-serif'>人脸识别摄像头</text>
<text x="2.39 8.48 14.57 20.67 26.76 32.85 38.94 45.04 51.13 57.22 63.32 69.41 75.50 81.59 87.69 93.78 99.87 105.96 112.06 118.15 124.24 130.33 136.43" y="0" font-size="9.0" fill="#e60012" stroke="#e60012" stroke-width="0.25" text-anchor="middle" font-family='"Liberation Sans","Noto Sans CJK SC",sans-serif' transform="translate(242.0 204.2) scale(0.76 1)">FACE RECOGNITION CAMERA</text>
<text x="420.05 433.90 447.75 461.60 475.45" y="179.2" font-size="14.0" fill="#111" stroke="#111" stroke-width="0.24" text-anchor="middle" font-family='"Liberation Sans","Noto Sans CJK SC",sans-serif'>夜视反光字</text>
<text x="2.44 8.63 14.83 21.03 27.22 33.42 39.61 45.81 52.00 58.20 64.39 70.59" y="0" font-size="9.0" fill="#e60012" stroke="#e60012" stroke-width="0.25" text-anchor="middle" font-family='"Liberation Sans","Noto Sans CJK SC",sans-serif' transform="translate(422.0 193.2) scale(0.76 1)">NIGHT VISION</text>
<text x="2.40 8.52 14.64 20.76 26.88 32.99 39.11 45.23 51.35 57.47 63.59 69.70 75.82 81.94 88.06 94.18 100.30 106.41 112.53 118.65" y="0" font-size="9.0" fill="#e60012" stroke="#e60012" stroke-width="0.25" text-anchor="middle" font-family='"Liberation Sans","Noto Sans CJK SC",sans-serif' transform="translate(404.0 209.2) scale(0.76 1)">REFLECTIVE CHARACTER</text>
<text x="708.30 717.18 726.06" y="0" font-size="13.72" fill="#111" stroke="#111" stroke-width="0.24" text-anchor="middle" font-family='"Liberation Sans","Noto Sans CJK SC",sans-serif' transform="translate(0 194.2) scale(0.78 1)">GPS</text>
<text x="576.71 590.56" y="194.2" font-size="14.0" fill="#111" stroke="#111" stroke-width="0.24" text-anchor="middle" font-family='"Liberation Sans","Noto Sans CJK SC",sans-serif'>定位</text>
<text x="2.39 8.49 14.59 20.69 26.79 32.89 39.00 45.10 51.20 57.30 63.40" y="0" font-size="9.0" fill="#e60012" stroke="#e60012" stroke-width="0.25" text-anchor="middle" font-family='"Liberation Sans","Noto Sans CJK SC",sans-serif' transform="translate(548.0 207.2) scale(0.76 1)">PS LOCATION</text>
<text x="706.38 720.23 734.08 747.93 761.78 775.63" y="374.8" font-size="14.0" fill="#111" stroke="#111" stroke-width="0.24" text-anchor="middle" font-family='"Liberation Sans","Noto Sans CJK SC",sans-serif'>扫码自动开门</text>
<text x="2.41 8.55 14.69 20.83 26.97 33.11 39.25 45.39 51.54 57.68 63.82 69.96 76.10 82.24 88.38 94.52 100.66 106.80" y="0" font-size="9.0" fill="#e60012" stroke="#e60012" stroke-width="0.25" text-anchor="middle" font-family='"Liberation Sans","Noto Sans CJK SC",sans-serif' transform="translate(701.0 390.7) scale(0.76 1)">SCANNING AUTOMATIC</text>
<text x="2.41 8.55 14.69 20.83 26.97 33.11 39.25 45.39 51.54 57.68 63.82 69.96" y="0" font-size="9.0" fill="#e60012" stroke="#e60012" stroke-width="0.25" text-anchor="middle" font-family='"Liberation Sans","Noto Sans CJK SC",sans-serif' transform="translate(701.0 407.2) scale(0.76 1)">DOOR OPENING</text>
<text x="186.15 200.00 213.85" y="628.2" font-size="14.0" fill="#111" stroke="#111" stroke-width="0.24" text-anchor="middle" font-family='"Liberation Sans","Noto Sans CJK SC",sans-serif'>扫码器</text>
<text x="2.43 8.62 14.80 20.99 27.17 33.36 39.54 45.72 51.91 58.09" y="0" font-size="9.0" fill="#e60012" stroke="#e60012" stroke-width="0.25" text-anchor="middle" font-family='"Liberation Sans","Noto Sans CJK SC",sans-serif' transform="translate(177.0 640.2) scale(0.76 1)">SWEEP CODE</text>
<text x="375.73 389.58 403.43 417.28" y="669.2" font-size="14.0" fill="#111" stroke="#111" stroke-width="0.24" text-anchor="middle" font-family='"Liberation Sans","Noto Sans CJK SC",sans-serif'>积分兑换</text>
<text x="2.38 8.47 14.56 20.64 26.73 32.81 38.90 44.98" y="0" font-size="9.0" fill="#e60012" stroke="#e60012" stroke-width="0.25" text-anchor="middle" font-family='"Liberation Sans","Noto Sans CJK SC",sans-serif' transform="translate(377.0 683.2) scale(0.76 1)">EXCHANGE</text>
<text x="389.81 398.69 407.56" y="0" font-size="13.72" fill="#111" stroke="#111" stroke-width="0.24" text-anchor="middle" font-family='"Liberation Sans","Noto Sans CJK SC",sans-serif' transform="translate(0 732.2) scale(0.78 1)">USB</text>
<text x="328.29 342.14 355.99" y="732.2" font-size="14.0" fill="#111" stroke="#111" stroke-width="0.24" text-anchor="middle" font-family='"Liberation Sans","Noto Sans CJK SC",sans-serif'>充电口</text>
<text x="2.44 8.63 14.82 21.01 27.21 33.40 39.59 45.78 51.97 58.17 64.36 70.55 76.74 82.93 89.13 95.32 101.51" y="0" font-size="9.0" fill="#e60012" stroke="#e60012" stroke-width="0.25" text-anchor="middle" font-family='"Liberation Sans","Noto Sans CJK SC",sans-serif' transform="translate(294.0 746.8) scale(0.76 1)">USB CHARGING PORT</text>
<text x="534.15 548.00 561.85" y="668.8" font-size="14.0" fill="#111" stroke="#111" stroke-width="0.24" text-anchor="middle" font-family='"Liberation Sans","Noto Sans CJK SC",sans-serif'>丝印版</text>
<text x="2.41 8.55 14.69 20.83 26.97 33.11 39.25 45.39 51.54 57.68 63.82 69.96 76.10 82.24 88.38 94.52 100.66 106.80 112.94 119.08 125.22" y="0" font-size="9.0" fill="#e60012" stroke="#e60012" stroke-width="0.25" text-anchor="middle" font-family='"Liberation Sans","Noto Sans CJK SC",sans-serif' transform="translate(513.0 684.7) scale(0.76 1)">SCREEN PRINTING PLATE</text>
<text x="618.3" y="724.6" font-size="21.8" fill="#e60012" text-anchor="start" font-weight="normal" font-family='"Liberation Sans","Noto Sans CJK SC",sans-serif' textLength="80.0" lengthAdjust="spacingAndGlyphs" stroke="#e60012" stroke-width="0.15">3+1分类</text>
<text x="5.29 17.12 28.95 40.78 52.61 64.44 76.27 88.10 99.93 111.76 123.59 135.42 147.25 159.08" y="0" font-size="18.8" fill="#1a97d8" stroke="#1a97d8" stroke-width="0.5" text-anchor="middle" font-family='"Liberation Sans","Noto Sans CJK SC",sans-serif' transform="translate(597.0 749.9) scale(0.8 1)">CLASSIFICATION</text>
</svg>
</body></html>
